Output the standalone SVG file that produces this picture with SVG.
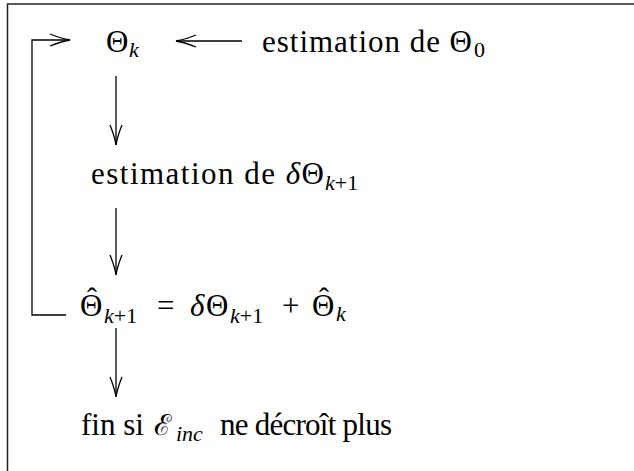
<svg xmlns="http://www.w3.org/2000/svg" width="634" height="471" viewBox="0 0 634 471">
<style>
.t{font-family:"Liberation Serif","Times New Roman",serif;font-size:31px;fill:#000}
.s{font-size:22px}
.i{font-style:italic}
.h{font-size:30px;text-anchor:middle}
.c{fill:none;stroke:#000;stroke-width:1.3}
.f{fill:none;stroke:#222;stroke-width:1.5}
</style>
<defs>
<marker id="ah" markerUnits="userSpaceOnUse" markerWidth="24" markerHeight="16" viewBox="-20 -8 24 16" refX="0" refY="0" orient="auto" overflow="visible">
<path d="M-20,-6 Q-9,-1.5 0,0 Q-9,1.5 -20,6" fill="none" stroke="#000" stroke-width="1.3"/>
</marker>
</defs>
<rect width="634" height="471" fill="#fff"/>
<g id="frame">
<path class="f" d="M7.5,471 V4 H634"/>
</g>
<g id="connectors">
<path class="c" d="M242,41 H176" marker-end="url(#ah)"/>
<path class="c" d="M116,76 V145" marker-end="url(#ah)"/>
<path class="c" d="M116,208 V275" marker-end="url(#ah)"/>
<path class="c" d="M116,328 V397" marker-end="url(#ah)"/>
<path class="c" d="M66,315 H32 V40 H70" marker-end="url(#ah)"/>
</g>
<g id="n-theta-k">
<text class="t" x="106" y="52">Θ<tspan class="s i" x="129" y="57">k</tspan></text>
</g>
<g id="n-theta0">
<text class="t" x="262" y="52" textLength="210" lengthAdjust="spacing">estimation de Θ</text>
<text class="t s" x="474" y="57">0</text>
</g>
<g id="n-delta">
<text class="t" x="91" y="184" textLength="233" lengthAdjust="spacing">estimation de <tspan class="i">δ</tspan>Θ</text>
<text class="t s" x="325" y="190"><tspan class="i">k</tspan>+1</text>
</g>
<g id="n-update">
<text class="t" x="80" y="316">Θ<tspan class="h" x="92" y="308">ˆ</tspan><tspan class="s" x="104" y="323"><tspan class="i">k</tspan>+1</tspan></text>
<text class="t" x="157" y="316">=</text>
<text class="t" x="190" y="316"><tspan class="i">δ</tspan><tspan x="206">Θ</tspan><tspan class="s" x="230" y="323"><tspan class="i">k</tspan>+1</tspan></text>
<text class="t" x="282" y="316">+</text>
<text class="t" x="312" y="316">Θ<tspan class="h" x="324" y="308">ˆ</tspan><tspan class="s i" x="336" y="321">k</tspan></text>
</g>
<g id="n-end">
<text class="t" x="81" y="435">fin si</text>
<text class="t" x="154" y="435" style="font-family:'DejaVu Serif',serif;font-size:29px">ℰ</text>
<text class="t s i" x="176" y="441">inc</text>
<text class="t" x="220" y="435" textLength="172" lengthAdjust="spacing">ne décroît plus</text>
</g>
</svg>
